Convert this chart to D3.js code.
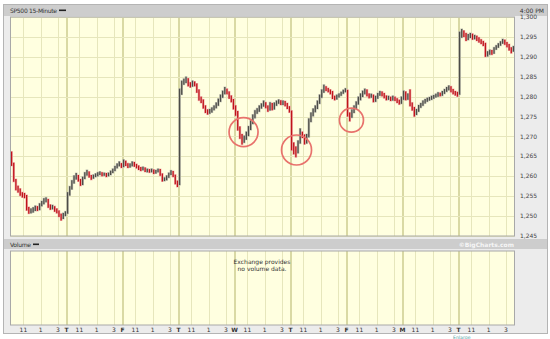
<!DOCTYPE html>
<html>
<head>
<meta charset="utf-8">
<script src="https://cdn.jsdelivr.net/npm/d3@7"></script>
<style>
  body { margin: 0; background: #fff; }
  text { font-family: "DejaVu Sans", sans-serif; }
</style>
</head>
<body>
<svg id="chart" width="550" height="339"></svg>
<script>
// day letters (first day sits on the left edge, no label drawn)
var dayLetters = ["W", "T", "F", "T", "W", "T", "F", "M", "T"];
var hourLabels = ["11", "1", "3"];
var hourBars = [6, 14, 22]; // 15-minute bars after 9:30
var barsPerDay = 26;
var priceTicks = [1245, 1250, 1255, 1260, 1265, 1270, 1275, 1280, 1285, 1290, 1295, 1300];

var firstOpen = 1265.5;

// 15-minute closes, one row per day
var closes = [
  1263, 1259, 1257, 1256.7, 1255.5, 1255.2, 1255, 1251.8, 1251.2, 1251.2, 1251.5, 1252, 1251.8, 1252.7, 1253.2, 1254, 1254, 1252.5, 1252, 1252.2, 1251.5, 1251.2, 1250.2, 1249.5, 1250.2, 1250.7,
  1255.5, 1257, 1258.5, 1259.5, 1260, 1259, 1258, 1259.5, 1260.5, 1261, 1260, 1259.5, 1260, 1260.2, 1260.5, 1260.8, 1260.4, 1260.6, 1260.2, 1260.5, 1261, 1261.5, 1262.2, 1262.8, 1263.2, 1262.5,
  1263.5, 1263, 1262.5, 1262.8, 1263.3, 1262.8, 1262.5, 1262, 1261.8, 1262, 1261.5, 1261.5, 1261.3, 1261.5, 1261, 1261.2, 1261.5, 1260.5, 1259, 1259.3, 1259.8, 1260.5, 1261, 1260.2, 1258.5, 1257.8,
  1281, 1283.5, 1283.8, 1284.3, 1283, 1282.8, 1283.5, 1283, 1281.5, 1279.5, 1279, 1277.5, 1276.3, 1276, 1276.3, 1276.8, 1277.3, 1278, 1279, 1280, 1281, 1281.8, 1281, 1280, 1279, 1277.3,
  1276, 1272, 1270, 1268.8, 1269.5, 1270.5, 1272, 1273.5, 1275, 1276, 1276.5, 1277.3, 1277.8, 1278.3, 1277.5, 1276.8, 1278, 1277, 1278, 1278.5, 1278.8, 1278.3, 1278.5, 1278, 1277.3, 1276.5,
  1267.5, 1267, 1266, 1268.5, 1270.5, 1270, 1268.5, 1270, 1274, 1275.5, 1276.5, 1277.3, 1278.5, 1280, 1281.3, 1282.3, 1281.8, 1281.5, 1281, 1279.8, 1279.5, 1280, 1280.3, 1280.8, 1281.3, 1281.7,
  1275.5, 1275, 1276.3, 1277.3, 1278.3, 1279.5, 1280.3, 1281, 1281.5, 1280.5, 1280, 1280.3, 1279, 1279.8, 1280.5, 1281, 1280.5, 1280, 1279.5, 1279.8, 1279.3, 1279.8, 1279.3, 1278.8, 1278.5, 1279.5,
  1281, 1279.5, 1280.3, 1278, 1277, 1275.8, 1276.5, 1277.5, 1278, 1278.6, 1279, 1279.3, 1279.5, 1279.8, 1280, 1280.3, 1280.7, 1280.5, 1281, 1281.5, 1282, 1282.3, 1281.5, 1281, 1280.8, 1280.5,
  1295.5, 1296, 1295.5, 1294.5, 1295.2, 1295.5, 1294.8, 1295, 1294.5, 1294, 1293.6, 1293.2, 1290.5, 1290.8, 1291.2, 1291, 1292, 1292.5, 1293, 1293.5, 1294, 1293.3, 1292.8, 1292, 1291.5, 1292.3
];
var highs = [
  1266.2, 1263.4, 1259.3, 1257.6, 1256.9, 1256, 1255.8, 1255.3, 1252.3, 1251.9, 1252.2, 1252.6, 1252.5, 1253.2, 1253.8, 1254.5, 1254.7, 1254.3, 1252.9, 1252.8, 1252.5, 1251.9, 1251.4, 1250.6, 1250.8, 1251.2,
  1256, 1257.5, 1259, 1260.2, 1260.8, 1260.3, 1259.3, 1259.9, 1261, 1261.6, 1261.2, 1260.3, 1260.4, 1260.7, 1261, 1261.2, 1261, 1260.9, 1260.8, 1260.9, 1261.4, 1261.9, 1262.6, 1263.2, 1263.7, 1263.3,
  1264.2, 1263.9, 1263.3, 1263.2, 1263.7, 1263.6, 1263.1, 1262.7, 1262.3, 1262.4, 1262.2, 1261.9, 1261.8, 1261.9, 1261.7, 1261.6, 1261.9, 1261.8, 1260.7, 1259.7, 1260.2, 1260.9, 1261.5, 1261.3, 1260.4, 1258.9,
  1282, 1284, 1284.5, 1285, 1284.6, 1283.6, 1284, 1283.8, 1283.3, 1281.8, 1280, 1279.3, 1277.8, 1276.8, 1276.9, 1277.3, 1277.8, 1278.5, 1279.5, 1280.5, 1281.5, 1282.4, 1282, 1281.3, 1280.3, 1279.4,
  1277.8, 1276.4, 1272.5, 1270.6, 1270.2, 1271.2, 1272.6, 1274, 1275.5, 1276.6, 1277.1, 1277.8, 1278.3, 1279, 1278.6, 1277.8, 1278.6, 1278.4, 1278.5, 1279, 1279.3, 1279.1, 1279, 1278.9, 1278.4, 1277.6,
  1276.5, 1268.5, 1267.5, 1269, 1272, 1271.2, 1270.5, 1270.6, 1274.5, 1276, 1277, 1277.8, 1279, 1280.5, 1281.8, 1283, 1282.6, 1282.2, 1281.8, 1281.4, 1280.2, 1280.5, 1280.8, 1281.2, 1281.7, 1282.1,
  1281.7, 1276, 1276.8, 1277.8, 1278.8, 1280, 1280.8, 1281.5, 1282, 1281.8, 1280.8, 1280.7, 1280.5, 1280.2, 1280.9, 1281.4, 1281.3, 1280.9, 1280.3, 1280.2, 1280, 1280.2, 1280, 1279.6, 1279.2, 1280,
  1281.5, 1281.3, 1280.8, 1281.8, 1278.5, 1277.4, 1276.9, 1277.9, 1278.4, 1279, 1279.4, 1279.7, 1279.9, 1280.2, 1280.4, 1280.7, 1281.1, 1281, 1281.4, 1281.9, 1282.4, 1282.8, 1282.6, 1281.9, 1281.4, 1281.2,
  1296.3, 1297, 1296.6, 1296, 1295.7, 1296, 1295.8, 1295.5, 1295.3, 1294.9, 1294.4, 1294, 1293.5, 1291.4, 1291.8, 1291.7, 1292.4, 1292.9, 1293.4, 1293.9, 1294.5, 1294.3, 1293.7, 1293.2, 1292.4, 1292.7
];
var lows = [
  1262.6, 1258.6, 1256.5, 1255.9, 1255.1, 1254.7, 1254.5, 1251.4, 1250.6, 1250.7, 1250.9, 1251.3, 1251.3, 1251.5, 1252.5, 1253, 1253.5, 1252.1, 1251.6, 1251.7, 1251.1, 1250.7, 1249.8, 1248.9, 1249.3, 1250,
  1250.6, 1255.2, 1256.7, 1258.2, 1259.2, 1258.7, 1257.6, 1257.8, 1259.3, 1260.2, 1259.7, 1259.1, 1259.4, 1259.8, 1260, 1260.3, 1260, 1260.1, 1259.8, 1260, 1260.3, 1260.8, 1261.3, 1262, 1262.5, 1262.1,
  1262.3, 1262.6, 1262.1, 1262.2, 1262.5, 1262.4, 1262, 1261.6, 1261.3, 1261.5, 1261.1, 1261, 1260.9, 1261, 1260.6, 1260.7, 1261, 1260.1, 1258.7, 1258.8, 1259, 1259.6, 1260.3, 1259.8, 1258, 1257.3,
  1257.8, 1280.5, 1283, 1283.4, 1282.6, 1282.3, 1282.5, 1282.6, 1281, 1279, 1278.4, 1277, 1275.9, 1275.5, 1275.7, 1276, 1276.6, 1277.1, 1277.7, 1278.7, 1279.7, 1280.6, 1280.6, 1279.5, 1278.6, 1276.8,
  1275.2, 1271.5, 1269.4, 1268, 1268.4, 1269.2, 1270.1, 1271.6, 1273.1, 1274.6, 1275.7, 1276.2, 1277, 1277.5, 1277.1, 1276.2, 1276.5, 1276.6, 1276.8, 1277.7, 1278.2, 1277.9, 1277.9, 1277.6, 1276.9, 1276,
  1266.5, 1265.5, 1264.8, 1265.8, 1268.2, 1269.6, 1268, 1268.2, 1269.8, 1273.6, 1275.1, 1276.1, 1276.9, 1278.2, 1279.7, 1281, 1281.4, 1281.1, 1280.6, 1279.4, 1279.1, 1279.3, 1279.8, 1280.2, 1280.7, 1281.1,
  1275, 1273.8, 1274.7, 1275.9, 1276.9, 1278, 1279.1, 1279.9, 1280.6, 1280.1, 1279.6, 1279.7, 1278.6, 1278.7, 1279.5, 1280.2, 1280.1, 1279.6, 1279.1, 1279.2, 1278.9, 1279, 1278.9, 1278.4, 1278, 1278.2,
  1279.2, 1279.1, 1279.2, 1277.6, 1276.5, 1275, 1275.4, 1276.2, 1277.2, 1277.7, 1278.3, 1278.7, 1279, 1279.2, 1279.5, 1279.8, 1280, 1280.1, 1280.2, 1280.7, 1281.2, 1281.6, 1281.1, 1280.6, 1280.3, 1280,
  1280.5, 1294.8, 1295, 1294, 1294.2, 1294.7, 1294.3, 1294.4, 1294, 1293.6, 1293.2, 1292.7, 1290, 1290.1, 1290.5, 1290.5, 1290.8, 1291.8, 1292.3, 1292.8, 1293.3, 1293, 1292.4, 1291.6, 1290.9, 1291.3
];

// red circles drawn on the chart: [bar index, price, radius px]
var circleBars = [107.7, 132.3, 157.8];
var circlePrices = [1271.1, 1266.6, 1274.1];
var circleRadius = [14.5, 15, 12];

var svg = d3.select("#chart");

var plotLeft = 10.5, plotRight = 514.5;
var mainTop = 17, mainBottom = 236;
var volTop = 251, volBottom = 325;

var nBars = closes.length;
var x = d3.scaleLinear().domain([0, nBars]).range([plotLeft, plotRight]);
var y = d3.scaleLinear().domain([1245, 1300]).range([mainBottom, mainTop]);

// outer frame
svg.append("rect").attr("x", 3.5).attr("y", 4.5).attr("width", 544).attr("height", 329)
  .attr("fill", "#ececec").attr("stroke", "#b4b4b4");
// header bars
svg.append("rect").attr("x", 4).attr("y", 5).attr("width", 543).attr("height", 11).attr("fill", "#cdcdcd");
svg.append("rect").attr("x", 4).attr("y", 239).attr("width", 543).attr("height", 10).attr("fill", "#cdcdcd");

svg.append("text").attr("x", 10).attr("y", 13).attr("font-size", 6).attr("fill", "#333")
  .attr("textLength", 47).text("SP500 15-Minute");
svg.append("rect").attr("x", 59).attr("y", 9.5).attr("width", 7).attr("height", 1.6).attr("fill", "#222");
svg.append("text").attr("x", 544).attr("y", 13).attr("font-size", 6).attr("fill", "#333")
  .attr("text-anchor", "end").text("4:00 PM");

svg.append("text").attr("x", 10).attr("y", 247).attr("font-size", 6).attr("fill", "#333")
  .attr("textLength", 21).text("Volume");
svg.append("rect").attr("x", 33).attr("y", 243.5).attr("width", 6).attr("height", 1.6).attr("fill", "#222");
svg.append("text").attr("x", 514).attr("y", 247).attr("font-size", 6).attr("font-weight", "bold")
  .attr("fill", "#f6f6f6").attr("text-anchor", "end").text("\u00A9BigCharts.com");

// panels
function panel(top, bottom) {
  svg.append("rect").attr("x", plotLeft).attr("y", top).attr("width", plotRight - plotLeft)
    .attr("height", bottom - top).attr("fill", "#ffffe0");
  var g = svg.append("g");
  for (var d = 0; d < dayLetters.length; d++) {
    hourBars.forEach(function (h) {
      var xx = Math.round(x(d * barsPerDay + h)) + 0.5;
      g.append("line").attr("x1", xx).attr("x2", xx).attr("y1", top).attr("y2", bottom)
        .attr("stroke", "#e6e6bc").attr("stroke-width", 1);
    });
    if (d > 0) {
      var xd = Math.round(x(d * barsPerDay));
      g.append("line").attr("x1", xd).attr("x2", xd).attr("y1", top).attr("y2", bottom)
        .attr("stroke", "#d9d9a4").attr("stroke-width", 2);
    }
  }
  return g;
}

var mainGrid = panel(mainTop, mainBottom);
priceTicks.forEach(function (p) {
  var yy = Math.round(y(p)) + 0.5;
  mainGrid.append("line").attr("x1", plotLeft).attr("x2", plotRight).attr("y1", yy).attr("y2", yy)
    .attr("stroke", "#e6e6bc");
});
panel(volTop, volBottom);

// price labels on the right
svg.selectAll(".ptick").data(priceTicks).enter().append("text")
  .attr("x", 520).attr("y", function (p) { return y(p); }).attr("dy", "0.35em")
  .attr("font-size", 6).attr("fill", "#444").text(d3.format(","));

// OHLC bars
var bars = closes.map(function (c, i) {
  return { i: i, open: i === 0 ? firstOpen : closes[i - 1], close: c, high: highs[i], low: lows[i] };
});
var barG = svg.append("g");
barG.selectAll(".halo").data(bars).enter().append("line")
  .attr("x1", function (d) { return x(d.i + 0.5); }).attr("x2", function (d) { return x(d.i + 0.5); })
  .attr("y1", function (d) { return y(d.high) - 0.5; }).attr("y2", function (d) { return y(d.low) + 0.5; })
  .attr("stroke", function (d) { return d.close < d.open ? "#f0b4b0" : "#c4c4b4"; })
  .attr("stroke-width", 2.6);
barG.selectAll(".bar").data(bars).enter().append("line")
  .attr("x1", function (d) { return x(d.i + 0.5); }).attr("x2", function (d) { return x(d.i + 0.5); })
  .attr("y1", function (d) { return y(d.high); }).attr("y2", function (d) { return y(d.low); })
  .attr("stroke", function (d) { return d.close < d.open ? "#c0141a" : "#4c4c48"; })
  .attr("stroke-width", 1.3);

// plot borders
svg.append("rect").attr("x", plotLeft).attr("y", mainTop).attr("width", plotRight - plotLeft)
  .attr("height", mainBottom - mainTop).attr("fill", "none").attr("stroke", "#a8a8a8");
svg.append("rect").attr("x", plotLeft).attr("y", volTop).attr("width", plotRight - plotLeft)
  .attr("height", volBottom - volTop).attr("fill", "none").attr("stroke", "#a8a8a8");

// annotation circles
svg.selectAll(".ring").data(circleBars).enter().append("circle")
  .attr("cx", function (b) { return x(b + 0.5); })
  .attr("cy", function (b, k) { return y(circlePrices[k]); })
  .attr("r", function (b, k) { return circleRadius[k]; })
  .attr("fill", "none").attr("stroke", "#e8726c").attr("stroke-width", 1.7);

// volume note
svg.append("text").attr("x", 262).attr("y", 264).attr("font-size", 6).attr("fill", "#333")
  .attr("text-anchor", "middle").text("Exchange provides");
svg.append("text").attr("x", 262).attr("y", 270.5).attr("font-size", 6).attr("fill", "#333")
  .attr("text-anchor", "middle").text("no volume data.");

// time axis labels
var xLabels = [];
for (var d = 0; d < dayLetters.length; d++) {
  if (d > 0) xLabels.push({ pos: d * barsPerDay, text: dayLetters[d], bold: true });
  hourBars.forEach(function (h, k) { xLabels.push({ pos: d * barsPerDay + h, text: hourLabels[k], bold: false }); });
}
svg.selectAll(".xl").data(xLabels).enter().append("text")
  .attr("x", function (l) { return x(l.pos); }).attr("y", 332)
  .attr("text-anchor", "middle").attr("font-size", 6)
  .attr("font-weight", function (l) { return l.bold ? "bold" : "normal"; })
  .attr("fill", "#333").text(function (l) { return l.text; });

// small link below the frame
svg.append("text").attr("x", 453).attr("y", 338.6).attr("font-size", 4.6).attr("fill", "#4aa0a0").text("Enlarge");
</script>
</body>
</html>
